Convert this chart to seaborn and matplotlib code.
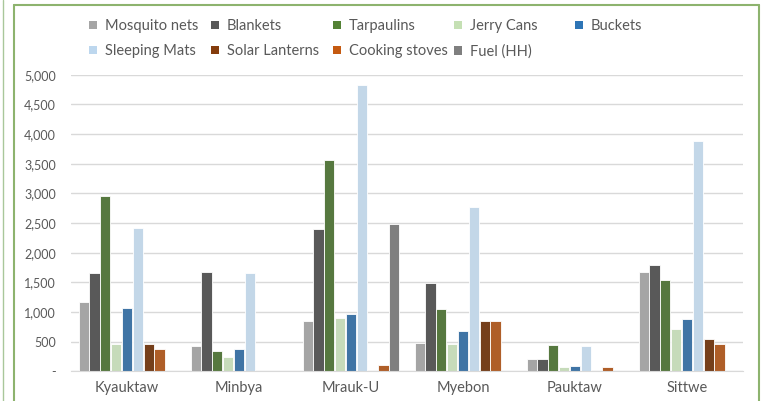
import pandas as pd
import matplotlib.pyplot as plt
import seaborn as sns
from matplotlib.lines import Line2D
from matplotlib.patches import Patch
from matplotlib.ticker import FuncFormatter, MultipleLocator

# dati
townships = ["Kyauktaw", "Minbya", "Mrauk-U", "Myebon", "Pauktaw", "Sittwe"]
items = ["Mosquito nets", "Blankets", "Tarpaulins", "Jerry Cans", "Buckets",
         "Sleeping Mats", "Solar Lanterns", "Cooking stoves", "Fuel (HH)"]

mosquito_nets = [1170, 420, 840, 480, 210, 1670]
blankets = [1660, 1670, 2400, 1490, 210, 1800]
tarpaulins = [2960, 350, 3560, 1045, 445, 1540]
jerry_cans = [465, 240, 900, 465, 70, 720]
buckets = [1060, 380, 965, 680, 95, 875]
sleeping_mats = [2410, 1650, 4825, 2770, 425, 3890]
solar_lanterns = [455, 0, 5, 850, 5, 550]
cooking_stoves = [375, 0, 105, 850, 80, 465]
fuel_hh = [0, 0, 2485, 0, 0, 0]

colors = ["#A5A5A5", "#595959", "#548235", "#C5E0B4", "#2E75B6",
          "#BDD7EE", "#843C0C", "#C55A11", "#7F7F7F"]

series = [mosquito_nets, blankets, tarpaulins, jerry_cans, buckets,
          sleeping_mats, solar_lanterns, cooking_stoves, fuel_hh]
rows = []
for item, vals in zip(items, series):
    for t, v in zip(townships, vals):
        rows.append({"Township": t, "Item": item, "Qty": v})
dati = pd.DataFrame(rows)

sns.set_style("white")
plt.rcParams['font.family'] = ['Lato', 'DejaVu Sans']
text_col = "#595959"

fig = plt.figure(figsize=(7.82, 4.01), dpi=100)
ax = fig.add_axes([0.0908, 0.074, 0.8594, 0.7397])

sns.barplot(data=dati, x="Township", y="Qty", hue="Item", hue_order=items,
            order=townships, palette=colors, width=0.87, gap=0.06,
            edgecolor="white", linewidth=0.6, legend=False, ax=ax)

ax.set_ylim(0, 5000)
ax.yaxis.set_major_locator(MultipleLocator(500))
ax.yaxis.set_major_formatter(FuncFormatter(lambda v, p: "-" if v == 0 else f"{int(v):,}"))
ax.grid(axis="y", color="#D9D9D9", linewidth=1)
ax.set_axisbelow(True)
for s in ["top", "right", "left"]:
    ax.spines[s].set_visible(False)
ax.spines["bottom"].set_color("#D9D9D9")
ax.tick_params(axis="y", length=0, pad=11, labelsize=9, labelcolor=text_col)
ax.tick_params(axis="x", length=0, pad=7, labelsize=10.5, labelcolor=text_col)
ax.set_xlabel("")
ax.set_ylabel("")

# legenda in alto: colonne a larghezza fissa come in Excel
W, H = 782, 401
handles = [Patch(facecolor=c, edgecolor="none") for c in colors]
col_x = [89, 211, 333, 454, 575]
for k, x in enumerate(col_x):
    fig.legend(handles[k::5], items[k::5], loc="upper left",
               bbox_to_anchor=(x / W, 0.952), ncol=1, frameon=False,
               fontsize=10.5, labelcolor=text_col,
               handlelength=0.55, handleheight=0.55, handletextpad=0.55,
               labelspacing=0.75, borderpad=0, borderaxespad=0)

# cornice verde
green = "#8DB36E"
fig.add_artist(Line2D([14 / W, 14 / W], [0, 1 - 5 / H], color=green, lw=1.5))
fig.add_artist(Line2D([759 / W, 759 / W], [0, 1 - 5 / H], color=green, lw=1.5))
fig.add_artist(Line2D([14 / W, 759 / W], [1 - 5 / H, 1 - 5 / H], color=green, lw=1.5))
fig.add_artist(Line2D([3 / W, 3 / W], [0, 1], color="#A9C79A", lw=1))

fig.savefig("out.png", dpi=100)
